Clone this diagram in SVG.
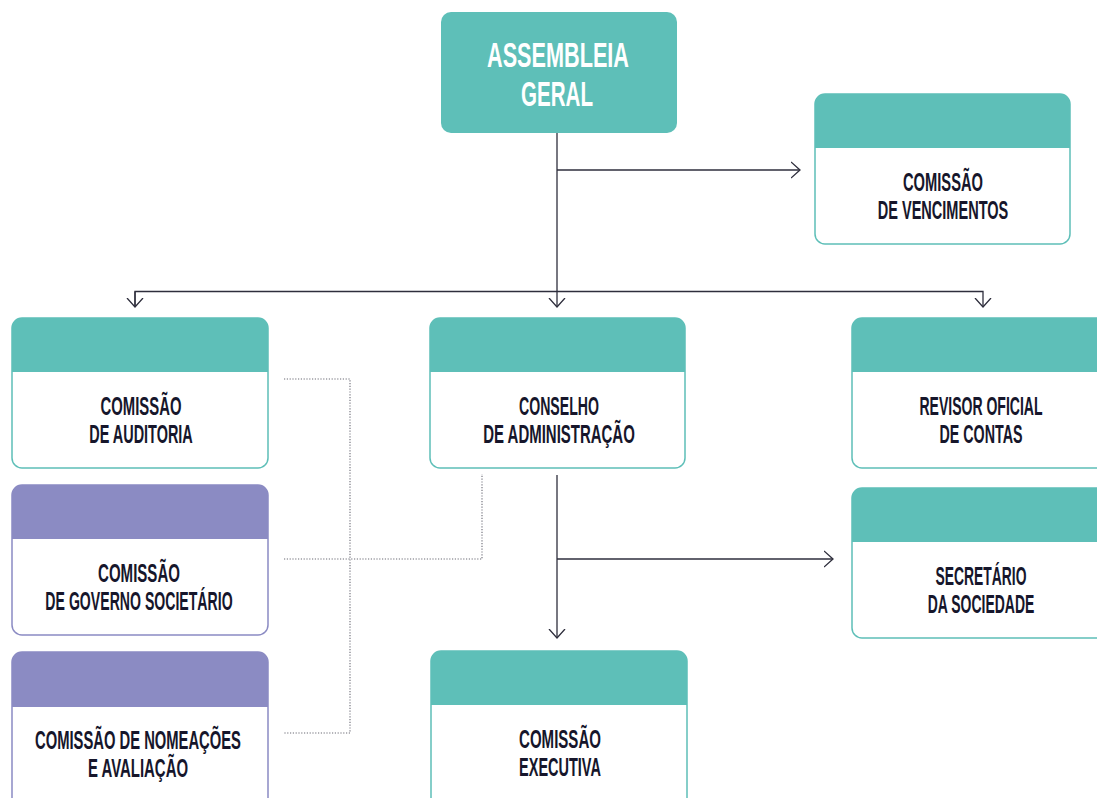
<svg xmlns="http://www.w3.org/2000/svg" width="1097" height="798" viewBox="0 0 1097 798">
<style>
.box{fill:#ffffff;stroke:#5ebfb8;stroke-width:1.5}
.boxp{fill:#ffffff;stroke:#8b8bc3;stroke-width:1.5}
.hd{fill:#5ebfb8}
.hdp{fill:#8b8bc3}
.t{font-family:"Liberation Sans",Arial,sans-serif;font-weight:bold;font-size:25px;fill:#16162b;text-anchor:middle}
.tw{font-family:"Liberation Sans",Arial,sans-serif;font-weight:bold;font-size:35px;fill:#ffffff;text-anchor:middle}
.ln{fill:none;stroke:#2e2e3c;stroke-width:1.3}
.dot{fill:none;stroke:#6a6a74;stroke-width:1.1;stroke-dasharray:1.2 1.6}
</style>
<defs>
<marker id="ar" viewBox="0 0 10 18" refX="9" refY="9" markerWidth="10" markerHeight="18" markerUnits="userSpaceOnUse" orient="auto">
<path d="M0,1 L9,9 L0,17" fill="none" stroke="#2e2e3c" stroke-width="1.3"/>
</marker>
</defs>
<g id="connectors">
<path class="ln" d="M557,133 V307" marker-end="url(#ar)"/>
<path class="ln" d="M557,170 H800" marker-end="url(#ar)"/>
<path class="ln" d="M135,307 V291.5 H983 V307" marker-end="url(#ar)"/>
<path class="ln" d="M135,291.5 V307" marker-end="url(#ar)"/>
<path class="ln" d="M557,475 V638" marker-end="url(#ar)"/>
<path class="ln" d="M557,559 H833" marker-end="url(#ar)"/>
<path class="dot" d="M284,379 H350 V733 H284"/>
<path class="dot" d="M284,559 H482 V474"/>
</g>
<g id="assembleia-geral">
<rect x="441" y="12" width="236" height="121" rx="10" fill="#5ebfb8"/>
<text class="tw" transform="translate(558,66.5) scale(0.619,1)">ASSEMBLEIA</text>
<text class="tw" transform="translate(557,106.3) scale(0.588,1)">GERAL</text>
</g>
<g id="comissao-vencimentos">
<rect class="box" x="815" y="94" width="255" height="150" rx="10"/>
<path class="hd" d="M815,148 V104 A10,10 0 0 1 825,94 H1060 A10,10 0 0 1 1070,104 V148 Z"/>
<text class="t" transform="translate(943,190.5) scale(0.588,1)">COMISSÃO</text>
<text class="t" transform="translate(943,218.5) scale(0.582,1)">DE VENCIMENTOS</text>
</g>
<g id="comissao-auditoria">
<rect class="box" x="12" y="318" width="256" height="150" rx="10"/>
<path class="hd" d="M12,372 V328 A10,10 0 0 1 22,318 H258 A10,10 0 0 1 268,328 V372 Z"/>
<text class="t" transform="translate(141,414.5) scale(0.595,1)">COMISSÃO</text>
<text class="t" transform="translate(141,442.5) scale(0.578,1)">DE AUDITORIA</text>
</g>
<g id="conselho-administracao">
<rect class="box" x="430" y="318" width="255" height="150" rx="10"/>
<path class="hd" d="M430,372 V328 A10,10 0 0 1 440,318 H675 A10,10 0 0 1 685,328 V372 Z"/>
<text class="t" transform="translate(559,414.5) scale(0.565,1)">CONSELHO</text>
<text class="t" transform="translate(559,442.5) scale(0.599,1)">DE ADMINISTRAÇÃO</text>
</g>
<g id="revisor-oficial-contas">
<path class="box" d="M1100,318 H862 A10,10 0 0 0 852,328 V458 A10,10 0 0 0 862,468 H1100"/>
<path class="hd" d="M852,372 V328 A10,10 0 0 1 862,318 H1100 V372 Z"/>
<text class="t" transform="translate(981,414.5) scale(0.561,1)">REVISOR OFICIAL</text>
<text class="t" transform="translate(981,442.5) scale(0.571,1)">DE CONTAS</text>
</g>
<g id="comissao-governo-societario">
<rect class="boxp" x="12" y="485" width="256" height="150" rx="10"/>
<path class="hdp" d="M12,539 V495 A10,10 0 0 1 22,485 H258 A10,10 0 0 1 268,495 V539 Z"/>
<text class="t" transform="translate(139,582) scale(0.602,1)">COMISSÃO</text>
<text class="t" transform="translate(139,610) scale(0.564,1)">DE GOVERNO SOCIETÁRIO</text>
</g>
<g id="secretario-sociedade">
<path class="box" d="M1100,488 H862 A10,10 0 0 0 852,498 V628 A10,10 0 0 0 862,638 H1100"/>
<path class="hd" d="M852,542 V498 A10,10 0 0 1 862,488 H1100 V542 Z"/>
<text class="t" transform="translate(981,584.5) scale(0.555,1)">SECRETÁRIO</text>
<text class="t" transform="translate(981,612.5) scale(0.559,1)">DA SOCIEDADE</text>
</g>
<g id="comissao-nomeacoes-avaliacao">
<path class="boxp" d="M12,800 V662 A10,10 0 0 1 22,652 H258 A10,10 0 0 1 268,662 V800"/>
<path class="hdp" d="M12,707 V662 A10,10 0 0 1 22,652 H258 A10,10 0 0 1 268,662 V707 Z"/>
<text class="t" transform="translate(138,748.5) scale(0.591,1)">COMISSÃO DE NOMEAÇÕES</text>
<text class="t" transform="translate(138,776.5) scale(0.598,1)">E AVALIAÇÃO</text>
</g>
<g id="comissao-executiva">
<path class="box" d="M431,800 V661 A10,10 0 0 1 441,651 H677 A10,10 0 0 1 687,661 V800"/>
<path class="hd" d="M431,705 V661 A10,10 0 0 1 441,651 H677 A10,10 0 0 1 687,661 V705 Z"/>
<text class="t" transform="translate(560,747.5) scale(0.602,1)">COMISSÃO</text>
<text class="t" transform="translate(560,775.5) scale(0.580,1)">EXECUTIVA</text>
</g>
</svg>
